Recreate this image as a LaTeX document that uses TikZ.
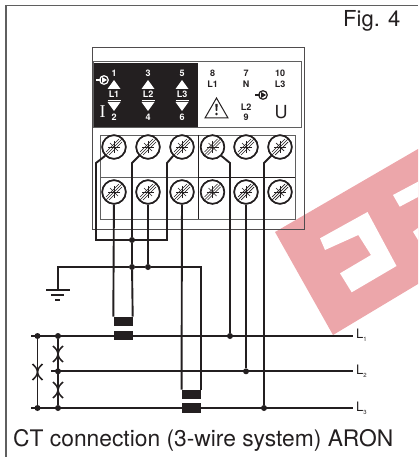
\documentclass[tikz,border=0pt]{standalone}
\usepackage{fontspec}
\setmainfont{TeX Gyre Heros}
\newfontfamily\serifface{Liberation Serif}
\usepackage{tikz}
\usetikzlibrary{positioning}
\definecolor{ink}{RGB}{35,31,32}
\definecolor{framegray}{RGB}{95,95,95}
\definecolor{markred}{RGB}{236,166,170}
\tikzset{
  wire/.style={draw=ink,line width=1.9pt},
  thinframe/.style={draw=framegray,line width=1pt},
  junction/.style={circle,fill=ink,inner sep=0pt,minimum size=6pt},
  ctcore/.style={rectangle,fill=ink,inner sep=0pt,minimum width=19pt,minimum height=9.5pt},
  term/.style={circle,draw=ink,line width=1.6pt,fill=white,inner sep=0pt,minimum size=23.5pt,
    path picture={
      \draw[ink,line width=.7pt] (path picture bounding box.center) ++(-9,9) -- ++(18,-18);
      \draw[ink,line width=.7pt] (path picture bounding box.center) ++(-8,5) -- ++(13,-13);
      \draw[ink,line width=.7pt] (path picture bounding box.center) ++(-5,8) -- ++(13,-13);
      \draw[ink,line width=.8pt] (path picture bounding box.center) ++(-6,0) -- ++(12,0);
      \draw[ink,line width=.8pt] (path picture bounding box.center) ++(0,-6) -- ++(0,12);
      \draw[ink,line width=.7pt] (path picture bounding box.center) ++(-4,-4) -- ++(8,8);
    }},
  lbl/.style={inner sep=0pt,font=\bfseries\fontsize{9}{9}\selectfont,text=ink},
  lblw/.style={lbl,text=white},
  line name/.style={inner sep=0pt,anchor=west,font=\fontsize{13}{13}\selectfont,text=ink},
  fuse/.pic={
    \draw[ink,line width=1.5pt] (-5,-8) .. controls (-1,-4) .. (0,0) .. controls (1,4) .. (5,8);
    \draw[ink,line width=1.5pt] (5,-8) .. controls (1,-4) .. (0,0) .. controls (-1,4) .. (-5,8);
  },
  feed/.pic={
    \draw[line width=1.2pt] (0,0) circle (4.3);
    \draw[line width=1.2pt] (-8,0) -- (-3,0);
    \fill (3,0) -- (-2,-3) -- (-2,3) -- cycle;
  }
}
\begin{document}
\begin{tikzpicture}[x=1pt,y=-1pt]
\useasboundingbox (0,0) rectangle (418,457);
% watermark
\fill[markred] (275,232) -- (418,149) -- (418,284) -- (333,335) -- cycle;
\fill[white] (320,238.3) -- (367.5,212) -- (396.5,266) -- (351.7,292.3) -- (340,273.3)
  -- (371,255) -- (358.3,235) -- (325,250) -- cycle;
\fill[white] (393,195) -- (418,181.7) -- (418,197) -- (399.7,206.7) -- cycle;
\fill[white] (413,231.7) -- (418,228) -- (418,240) -- cycle;
% page frame
\draw[draw=framegray,line width=1.5pt] (6,457) -- (6,5.5) -- (418,5.5);
% module
\draw[draw=ink!80,line width=1pt] (92,47.5) rectangle (304,229);
\fill[ink] (94,63) rectangle (198,127);
\draw[thinframe] (93.5,62) rectangle (301.5,128);
\draw[thinframe,line width=.8pt] (100.5,135) rectangle (295,219);
\draw[thinframe,line width=.8pt] (100.5,177) -- (198,177);
\draw[draw=ink,line width=.8pt] (198,177) -- (295,177);
\draw[draw=ink,line width=1pt] (198,135) -- (198,219);
% terminals
\foreach \n/\tx in {1/114,2/148,3/182,4/212.5,5/246,6/280} {
  \node[term] (u\n) at (\tx,147) {};
  \node[term] (d\n) at (\tx,192) {};
}
% marks on the module
\foreach \n/\tx/\lo/\up in {1/114/2/1,3/148/4/3,5/182/6/5} {
  \node[lblw] (top\n) at (\tx,73) {\up};
  \node[lblw] (bot\n) at (\tx,117.5) {\lo};
  \fill[white] (\tx,80) -- (\tx+6.5,89) -- (\tx-6.5,89) -- cycle;
  \fill[white] (\tx,111) -- (\tx+6.5,102) -- (\tx-6.5,102) -- cycle;
  \draw[white,line width=.7pt] (\tx-6.5,100) -- (\tx+6.5,100);
}
\node[lblw] (i1) at (114,94.5) {L1};
\node[lblw] (i2) at (148,94.5) {L2};
\node[lblw] (i3) at (182,94.5) {L3};
\node[inner sep=0pt,text=white,font=\serifface\fontsize{18}{18}\selectfont] (cur) at (102.7,112) {I};
\pic[white] at (104,80) {feed};
\pic[ink] at (263,95) {feed};
\node[lbl] (u8) at (212.5,73) {8};
\node[lbl] (ul1) at (212.5,84) {L1};
\node[lbl] (u7) at (246,73) {7};
\node[lbl] (un) at (246,84) {N};
\node[lbl] (u10) at (280,73) {10};
\node[lbl] (ul3) at (280,84) {L3};
\node[lbl] (ul2) at (246,107) {L2};
\node[lbl] (u9) at (246,117.5) {9};
\node[inner sep=0pt,text=ink,font=\fontsize{18}{18}\selectfont] (volt) at (281,112) {U};
\draw[draw=ink,line width=1pt,line join=miter] (216.5,98) -- (228,118) -- (205,118) -- cycle;
\fill[ink] (215.3,104) -- (217.7,104) -- (217.2,111) -- (215.8,111) -- cycle;
\fill[ink] (216.5,114) circle (1.3);
% junctions and transformers
\node[junction] (jb) at (132,240) {};
\node[junction] (jk) at (132,267) {};
\node[junction] (jm) at (148,267) {};
\node[junction] (a1) at (37.5,336) {};
\node[junction] (a2) at (58,336) {};
\node[junction] (a3) at (58,371.3) {};
\node[junction] (a4) at (37.5,408) {};
\node[junction] (a5) at (58,408) {};
\node[junction] (j1) at (230,336) {};
\node[junction] (j2) at (246,371.3) {};
\node[junction] (j3) at (264,408) {};
\node[ctcore] (ct1a) at (123,321.5) {};
\node[ctcore] (ct1b) at (123,335.5) {};
\node[ctcore] (ct2a) at (191.25,394.5) {};
\node[ctcore] (ct2b) at (191.25,408) {};
\coordinate (l1s) at (31,336);
\coordinate (l1e) at (353,336);
\coordinate (l2s) at (51,371.3);
\coordinate (l2e) at (353,371.3);
\coordinate (l3s) at (31,408);
\coordinate (l3e) at (353,408);
\coordinate (g0) at (58,290);
\coordinate (bl) at (96,240);
\coordinate (br) at (167,240);
% wiring
\draw[wire] (u1.south west) -- (96,163) -- (bl) -- (br) -- (167,163) -- (u3.south west);
\draw[wire] (u2.south west) -- (132,163) -- (jb) -- (jk) -- (ct1a.north east);
\draw[wire] (g0) |- (jk) -- (jm) -| (ct2a.north east);
\draw[wire] (d1) -- (ct1a.north west);
\draw[wire] (d2) -- (jm);
\draw[wire] (d3) -- (ct2a.north west);
\draw[wire] (u4.south east) -- (230,163) -- (j1);
\draw[wire] (d5) -- (j2);
\draw[wire] (u6.south west) -- (264,163) -- (j3);
\foreach \n in {1,...,6} {
  \node[term] at (u\n) {};
  \node[term] at (d\n) {};
}
\draw[wire] (l1s) -- (l1e);
\draw[wire] (l2s) -- (l2e);
\draw[wire] (l3s) -- (l3e);
\draw[wire] (a1) -- (a4);
\draw[wire] (a2) -- (a5);
\pic at (37.5,372) {fuse};
\pic at (58,354) {fuse};
\pic at (58,390) {fuse};
% earth
\draw[ink,line width=1.4pt] (46,290) -- (70,290);
\draw[ink,line width=1.2pt] (51,295) -- (64,295);
\draw[ink,line width=1.2pt] (55,300) -- (60,300);
% names
\node[line name] (n1) at (356,335) {L\raisebox{-3pt}{\fontsize{6}{6}\selectfont 1}};
\node[line name] (n2) at (356,371) {L\raisebox{-3pt}{\fontsize{6}{6}\selectfont 2}};
\node[line name] (n3) at (356,408) {L\raisebox{-3pt}{\fontsize{6}{6}\selectfont 3}};
\node[inner sep=0pt,anchor=base west,text=ink,font=\fontsize{22}{22}\selectfont] (fig) at (343,27) {Fig. 4};
\node[inner sep=0pt,anchor=base west,text=ink,font=\fontsize{22.8}{22.8}\selectfont] (cap) at (13,446) {CT connection (3-wire system) ARON};
\end{tikzpicture}
\end{document}
